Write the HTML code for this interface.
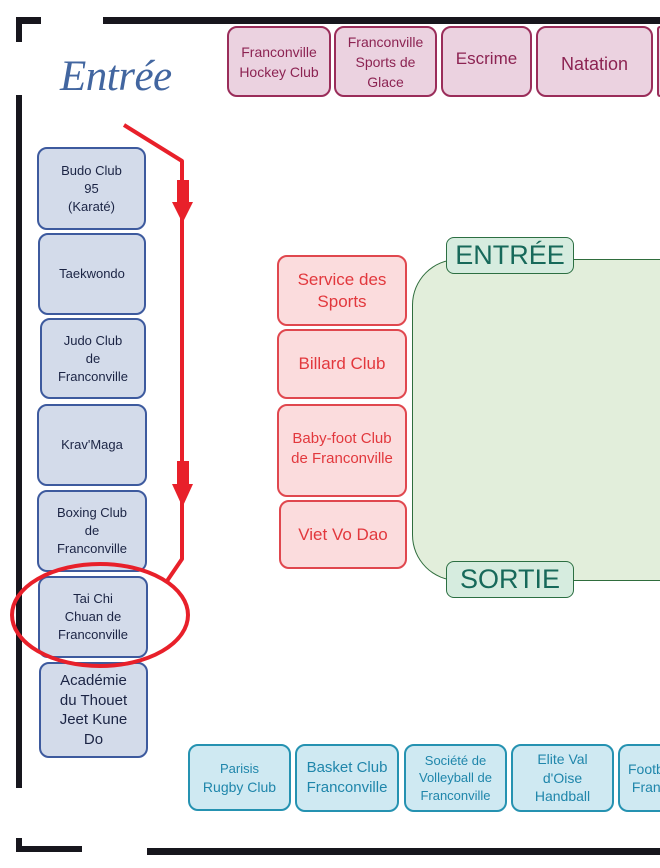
<!DOCTYPE html>
<html><head><meta charset="utf-8"><style>
*{margin:0;padding:0;box-sizing:border-box}
html,body{width:660px;height:868px;overflow:hidden;background:#fff}
body{position:relative;font-family:"Liberation Sans","DejaVu Sans",sans-serif}
.w{position:absolute;background:#17161d}
.b{position:absolute;display:flex;align-items:center;justify-content:center;text-align:center;border-radius:10px;border:2px solid}
.pk{background:#ebd2e0;border-color:#9a2d5a;color:#8c2352}
.bl{background:#d3dbea;border-color:#3d5a9e;color:#1b2444;font-size:13px;line-height:18px}
.rd{background:#fbdcdd;border-color:#e0474e;color:#e2383d}
.cy{background:#cfe9f2;border-color:#2592b1;color:#1f86ab}
.lbl{position:absolute;background:#d6ecdf;border:1.5px solid #2c6f42;border-radius:8px;color:#17695a;font-size:27px;display:flex;align-items:center;justify-content:center}
</style></head><body>
<!-- walls -->
<div class="w" style="left:16px;top:17px;width:6px;height:25px"></div>
<div class="w" style="left:16px;top:17px;width:25px;height:7px"></div>
<div class="w" style="left:103px;top:17px;width:557px;height:7px"></div>
<div class="w" style="left:16px;top:95px;width:6px;height:693px"></div>
<div class="w" style="left:16px;top:838px;width:6px;height:14px"></div>
<div class="w" style="left:16px;top:846px;width:66px;height:6px"></div>
<div class="w" style="left:147px;top:848px;width:513px;height:7px"></div>

<div style="position:absolute;left:60px;top:52px;font-family:'Liberation Serif',serif;font-style:italic;font-size:43px;color:#4266a0;letter-spacing:-0.5px;line-height:50px">Entrée</div>

<!-- top pink -->
<div class="b pk" style="left:227px;top:26px;width:104px;height:71px;font-size:14px;line-height:20px">Franconville<br>Hockey Club</div>
<div class="b pk" style="left:334px;top:26px;width:103px;height:71px;font-size:14px;line-height:20px">Franconville<br>Sports de<br>Glace</div>
<div class="b pk" style="left:441px;top:26px;width:91px;height:71px;font-size:17px;padding-bottom:6px">Escrime</div>
<div class="b pk" style="left:536px;top:26px;width:117px;height:71px;font-size:18px;padding-top:6px">Natation</div>
<div class="b pk" style="left:657px;top:26px;width:3px;height:71px;border-right:none;border-radius:10px 0 0 10px"></div>

<!-- left blue -->
<div class="b bl" style="left:37px;top:147px;width:109px;height:83px">Budo Club<br>95<br>(Karaté)</div>
<div class="b bl" style="left:38px;top:233px;width:108px;height:82px">Taekwondo</div>
<div class="b bl" style="left:40px;top:318px;width:106px;height:81px">Judo Club<br>de<br>Franconville</div>
<div class="b bl" style="left:37px;top:404px;width:110px;height:82px">Krav'Maga</div>
<div class="b bl" style="left:37px;top:490px;width:110px;height:82px">Boxing Club<br>de<br>Franconville</div>
<div class="b bl" style="left:38px;top:576px;width:110px;height:82px">Tai Chi<br>Chuan de<br>Franconville</div>
<div class="b bl" style="left:39px;top:662px;width:109px;height:96px;font-size:15px;line-height:19.5px">Académie<br>du Thouet<br>Jeet Kune<br>Do</div>

<!-- green region -->
<div style="position:absolute;left:412px;top:259px;width:248px;height:322px;background:#e2eedb;border:1.5px solid #2f6d3d;border-right:none;border-radius:46px 0 0 46px"></div>
<div class="lbl" style="left:446px;top:237px;width:128px;height:37px">ENTRÉE</div>
<div class="lbl" style="left:446px;top:561px;width:128px;height:37px">SORTIE</div>

<!-- red boxes -->
<div class="b rd" style="left:277px;top:255px;width:130px;height:71px;font-size:17px;line-height:22px">Service des<br>Sports</div>
<div class="b rd" style="left:277px;top:329px;width:130px;height:70px;font-size:17px">Billard Club</div>
<div class="b rd" style="left:277px;top:404px;width:130px;height:93px;font-size:15px;line-height:20px;padding-bottom:4px">Baby-foot Club<br>de Franconville</div>
<div class="b rd" style="left:279px;top:500px;width:128px;height:69px;font-size:17px">Viet Vo Dao</div>

<!-- cyan boxes -->
<div class="b cy" style="left:188px;top:744px;width:103px;height:67px;font-size:14px;line-height:19px"><span><span style="font-size:13px">Parisis</span><br>Rugby Club</span></div>
<div class="b cy" style="left:295px;top:744px;width:104px;height:68px;font-size:15px;line-height:20px">Basket Club<br>Franconville</div>
<div class="b cy" style="left:404px;top:744px;width:103px;height:68px;font-size:13px;line-height:17.5px">Société de<br>Volleyball de<br>Franconville</div>
<div class="b cy" style="left:511px;top:744px;width:103px;height:68px;font-size:14px;line-height:18.5px">Elite Val<br>d'Oise<br>Handball</div>
<div class="b cy" style="left:618px;top:744px;width:42px;height:68px;border-right:none;border-radius:10px 0 0 10px;overflow:hidden;justify-content:flex-start;font-size:14px;line-height:18.5px;white-space:nowrap;text-align:left"><div style="width:40px;overflow:hidden;padding-left:8px">Football Club<br>&nbsp;Franconville</div></div>

<!-- red route -->
<svg width="660" height="868" style="position:absolute;left:0;top:0" viewBox="0 0 660 868">
<polyline points="124,125 182,161 182,559 167,581" fill="none" stroke="#e8202a" stroke-width="4" stroke-linejoin="round"/>
<rect x="177" y="180" width="12" height="23" fill="#e8202a"/>
<polygon points="172,202 193,202 182.5,223" fill="#e8202a"/>
<rect x="177" y="461" width="12" height="24" fill="#e8202a"/>
<polygon points="172,484 193,484 182.5,507" fill="#e8202a"/>
<ellipse cx="100" cy="615" rx="88" ry="51" fill="none" stroke="#e8202a" stroke-width="4"/>
</svg>
</body></html>
